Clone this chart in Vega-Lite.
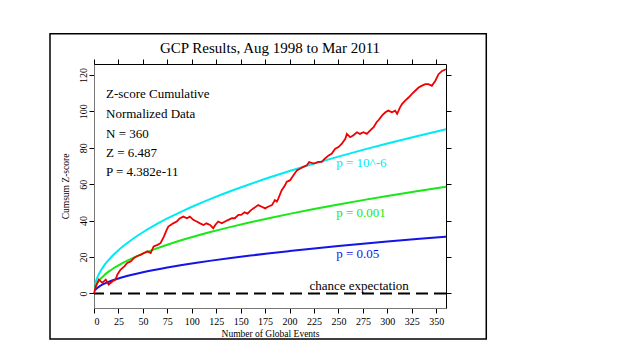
{
  "$schema": "https://vega.github.io/schema/vega-lite/v6.json",
  "autosize": "none",
  "width": 352,
  "height": 244,
  "padding": {"left": 94, "top": 64, "right": 180, "bottom": 47},
  "background": "white",
  "config": {
    "view": {"stroke": "black", "strokeWidth": 1},
    "font": "Liberation Serif",
    "axis": {"grid": false, "domainColor": "#777", "tickColor": "black", "tickSize": 5, "labelFont": "Liberation Serif", "titleFont": "Liberation Serif", "labelColor": "black", "titleColor": "black", "titleFontWeight": "normal", "labelFontSize": 10, "titleFontSize": 9.5}
  },
  "title": {"text": "GCP Results, Aug 1998 to Mar 2011", "font": "Liberation Serif", "fontSize": 15, "fontWeight": "normal", "color": "black", "anchor": "middle", "offset": -23},
  "datasets": {
    "box": [{"x1": -45, "x2": 401.2, "y1": 142.6, "y2": -25}],
    "zero": [{"z": 0}],
    "curves": [
      {"n": 1, "z": 4.75, "s": "cyan"}, {"n": 2, "z": 6.72, "s": "cyan"}, {"n": 3, "z": 8.23, "s": "cyan"}, {"n": 4, "z": 9.51, "s": "cyan"}, {"n": 6, "z": 11.64, "s": "cyan"}, {"n": 8, "z": 13.44, "s": "cyan"}, {"n": 10, "z": 15.03, "s": "cyan"}, {"n": 13, "z": 17.14, "s": "cyan"}, {"n": 16, "z": 19.01, "s": "cyan"}, {"n": 20, "z": 21.26, "s": "cyan"}, {"n": 25, "z": 23.77, "s": "cyan"}, {"n": 30, "z": 26.03, "s": "cyan"}, {"n": 40, "z": 30.06, "s": "cyan"}, {"n": 50, "z": 33.61, "s": "cyan"}, {"n": 60, "z": 36.82, "s": "cyan"}, {"n": 75, "z": 41.16, "s": "cyan"}, {"n": 90, "z": 45.09, "s": "cyan"}, {"n": 105, "z": 48.70, "s": "cyan"}, {"n": 120, "z": 52.07, "s": "cyan"}, {"n": 140, "z": 56.24, "s": "cyan"}, {"n": 160, "z": 60.12, "s": "cyan"}, {"n": 180, "z": 63.77, "s": "cyan"}, {"n": 200, "z": 67.22, "s": "cyan"}, {"n": 225, "z": 71.30, "s": "cyan"}, {"n": 250, "z": 75.15, "s": "cyan"}, {"n": 275, "z": 78.82, "s": "cyan"}, {"n": 300, "z": 82.33, "s": "cyan"}, {"n": 330, "z": 86.34, "s": "cyan"}, {"n": 360, "z": 90.18, "s": "cyan"},
      {"n": 1, "z": 3.09, "s": "green"}, {"n": 2, "z": 4.37, "s": "green"}, {"n": 3, "z": 5.35, "s": "green"}, {"n": 4, "z": 6.18, "s": "green"}, {"n": 6, "z": 7.57, "s": "green"}, {"n": 8, "z": 8.74, "s": "green"}, {"n": 10, "z": 9.77, "s": "green"}, {"n": 13, "z": 11.14, "s": "green"}, {"n": 16, "z": 12.36, "s": "green"}, {"n": 20, "z": 13.82, "s": "green"}, {"n": 25, "z": 15.45, "s": "green"}, {"n": 30, "z": 16.92, "s": "green"}, {"n": 40, "z": 19.54, "s": "green"}, {"n": 50, "z": 21.85, "s": "green"}, {"n": 60, "z": 23.94, "s": "green"}, {"n": 75, "z": 26.76, "s": "green"}, {"n": 90, "z": 29.31, "s": "green"}, {"n": 105, "z": 31.66, "s": "green"}, {"n": 120, "z": 33.85, "s": "green"}, {"n": 140, "z": 36.56, "s": "green"}, {"n": 160, "z": 39.09, "s": "green"}, {"n": 180, "z": 41.46, "s": "green"}, {"n": 200, "z": 43.70, "s": "green"}, {"n": 225, "z": 46.35, "s": "green"}, {"n": 250, "z": 48.86, "s": "green"}, {"n": 275, "z": 51.24, "s": "green"}, {"n": 300, "z": 53.52, "s": "green"}, {"n": 330, "z": 56.13, "s": "green"}, {"n": 360, "z": 58.63, "s": "green"},
      {"n": 1, "z": 1.65, "s": "blue"}, {"n": 2, "z": 2.33, "s": "blue"}, {"n": 3, "z": 2.85, "s": "blue"}, {"n": 4, "z": 3.29, "s": "blue"}, {"n": 6, "z": 4.03, "s": "blue"}, {"n": 8, "z": 4.65, "s": "blue"}, {"n": 10, "z": 5.20, "s": "blue"}, {"n": 13, "z": 5.93, "s": "blue"}, {"n": 16, "z": 6.58, "s": "blue"}, {"n": 20, "z": 7.36, "s": "blue"}, {"n": 25, "z": 8.23, "s": "blue"}, {"n": 30, "z": 9.01, "s": "blue"}, {"n": 40, "z": 10.40, "s": "blue"}, {"n": 50, "z": 11.63, "s": "blue"}, {"n": 60, "z": 12.74, "s": "blue"}, {"n": 75, "z": 14.25, "s": "blue"}, {"n": 90, "z": 15.61, "s": "blue"}, {"n": 105, "z": 16.86, "s": "blue"}, {"n": 120, "z": 18.02, "s": "blue"}, {"n": 140, "z": 19.46, "s": "blue"}, {"n": 160, "z": 20.81, "s": "blue"}, {"n": 180, "z": 22.07, "s": "blue"}, {"n": 200, "z": 23.26, "s": "blue"}, {"n": 225, "z": 24.68, "s": "blue"}, {"n": 250, "z": 26.01, "s": "blue"}, {"n": 275, "z": 27.28, "s": "blue"}, {"n": 300, "z": 28.49, "s": "blue"}, {"n": 330, "z": 29.88, "s": "blue"}, {"n": 360, "z": 31.21, "s": "blue"}
    ],
    "cumdev": [
      {"n": 0, "z": 0}, {"n": 2, "z": 4}, {"n": 5, "z": 7.6}, {"n": 8.5, "z": 5.8}, {"n": 12, "z": 7.6}, {"n": 15, "z": 4.9}, {"n": 19, "z": 6.7}, {"n": 22, "z": 7.6}, {"n": 24, "z": 10.4}, {"n": 27, "z": 13}, {"n": 31, "z": 14.9}, {"n": 34, "z": 16.7}, {"n": 37.5, "z": 17.6}, {"n": 41, "z": 19.5}, {"n": 44, "z": 20.4}, {"n": 48, "z": 21.3}, {"n": 51, "z": 22.2}, {"n": 54.6, "z": 23.1}, {"n": 58, "z": 22.2}, {"n": 61, "z": 25.8}, {"n": 65, "z": 26.7}, {"n": 68, "z": 27.6}, {"n": 71.6, "z": 31.3}, {"n": 74, "z": 34.5}, {"n": 76, "z": 36.7}, {"n": 81, "z": 38.5}, {"n": 84.6, "z": 39.5}, {"n": 88, "z": 41.3}, {"n": 91.4, "z": 42.2}, {"n": 95, "z": 41.3}, {"n": 98, "z": 42.2}, {"n": 101.6, "z": 40.4}, {"n": 105, "z": 39.5}, {"n": 108.5, "z": 38.5}, {"n": 112, "z": 37.6}, {"n": 115, "z": 38.5}, {"n": 118.7, "z": 37.6}, {"n": 122, "z": 35.8}, {"n": 124, "z": 37.6}, {"n": 127, "z": 39.5}, {"n": 130.7, "z": 38.5}, {"n": 134, "z": 39.5}, {"n": 137.5, "z": 40.4}, {"n": 141, "z": 41.3}, {"n": 144, "z": 41.3}, {"n": 147.7, "z": 43.1}, {"n": 150.5, "z": 43.1}, {"n": 154, "z": 44.5}, {"n": 157, "z": 43.8}, {"n": 160, "z": 45.5}, {"n": 163, "z": 46.7}, {"n": 168, "z": 48.5}, {"n": 171.6, "z": 47.6}, {"n": 175, "z": 46.7}, {"n": 178, "z": 47.6}, {"n": 182, "z": 48.5}, {"n": 185, "z": 51.3}, {"n": 187, "z": 50.4}, {"n": 188.6, "z": 52.2}, {"n": 192, "z": 56.7}, {"n": 195.5, "z": 59.5}, {"n": 197, "z": 61.3}, {"n": 200.6, "z": 62.2}, {"n": 204, "z": 64.9}, {"n": 207.5, "z": 67.6}, {"n": 211, "z": 68.6}, {"n": 214, "z": 69.5}, {"n": 217.7, "z": 70.4}, {"n": 220, "z": 72.2}, {"n": 224.5, "z": 71.3}, {"n": 229.6, "z": 72.2}, {"n": 233, "z": 72.2}, {"n": 236, "z": 74}, {"n": 240, "z": 75.8}, {"n": 243, "z": 76.7}, {"n": 246.7, "z": 79.5}, {"n": 250, "z": 80.4}, {"n": 253.5, "z": 82.2}, {"n": 257, "z": 84.9}, {"n": 258.6, "z": 87.6}, {"n": 262, "z": 85.8}, {"n": 265, "z": 86.7}, {"n": 269, "z": 88.5}, {"n": 272, "z": 87.6}, {"n": 275.6, "z": 88.5}, {"n": 279, "z": 87.6}, {"n": 282.5, "z": 89.5}, {"n": 286, "z": 91.3}, {"n": 289, "z": 94}, {"n": 291.5, "z": 95.5}, {"n": 294.5, "z": 97.6}, {"n": 298, "z": 99.5}, {"n": 301, "z": 100.4}, {"n": 304.7, "z": 99.5}, {"n": 308, "z": 100.4}, {"n": 310, "z": 98.6}, {"n": 313, "z": 102.2}, {"n": 315, "z": 104}, {"n": 318, "z": 105.8}, {"n": 321.7, "z": 107.6}, {"n": 325, "z": 109.5}, {"n": 328.5, "z": 111.3}, {"n": 332, "z": 113.1}, {"n": 335, "z": 114}, {"n": 338.8, "z": 114.9}, {"n": 342, "z": 114.9}, {"n": 345.5, "z": 114}, {"n": 349, "z": 116.7}, {"n": 352.4, "z": 120.4}, {"n": 356, "z": 122.2}, {"n": 360, "z": 123.1}
    ],
    "notes": [
      {"n": 12.3, "z": 109.6, "t": "Z-score Cumulative"},
      {"n": 12.3, "z": 98.6, "t": "Normalized Data"},
      {"n": 12.3, "z": 87.6, "t": "N = 360"},
      {"n": 12.3, "z": 77.2, "t": "Z = 6.487"},
      {"n": 12.3, "z": 66.8, "t": "P = 4.382e-11"}
    ],
    "plabels": [
      {"n": 247.7, "z": 71.5, "t": "p = 10^-6", "s": "cyan"},
      {"n": 247.7, "z": 44.4, "t": "p = 0.001", "s": "green"},
      {"n": 247.7, "z": 21.5, "t": "p = 0.05", "s": "blue"},
      {"n": 220.4, "z": 4.3, "t": "chance expectation", "s": "black"}
    ]
  },
  "layer": [
    {
      "data": {"name": "box"},
      "mark": {"type": "rect", "fill": null, "stroke": "black", "strokeWidth": 1.5},
      "encoding": {
        "x": {"field": "x1", "type": "quantitative", "scale": {"domain": [0, 360], "nice": false, "zero": false}, "axis": {"orient": "bottom", "values": [0, 25, 50, 75, 100, 125, 150, 175, 200, 225, 250, 275, 300, 325, 350], "title": "Number of Global Events", "labelPadding": 3, "titlePadding": 2}},
        "x2": {"field": "x2"},
        "y": {"field": "y1", "type": "quantitative", "scale": {"domain": [-8, 126], "nice": false, "zero": false}, "axis": {"orient": "left", "values": [0, 20, 40, 60, 80, 100, 120], "labelAngle": 270, "title": "Cumsum Z-score", "labelPadding": 1, "titlePadding": 8}},
        "y2": {"field": "y2"}
      }
    },
    {
      "data": {"name": "zero"},
      "mark": {"type": "rule", "color": "black", "strokeWidth": 2, "strokeDash": [12, 6]},
      "encoding": {"y": {"field": "z", "type": "quantitative", "axis": null}}
    },
    {
      "data": {"name": "curves"},
      "mark": {"type": "line", "strokeWidth": 2, "interpolate": "monotone"},
      "encoding": {
        "x": {"field": "n", "type": "quantitative", "axis": null},
        "y": {"field": "z", "type": "quantitative", "axis": {"orient": "right", "values": [0, 20, 40, 60, 80, 100, 120], "labels": false, "title": null, "domain": false, "ticks": true}},
        "color": {"field": "s", "type": "nominal", "scale": {"domain": ["cyan", "green", "blue", "black"], "range": ["#00eaf2", "#18e818", "#1414e6", "black"]}, "legend": null},
        "detail": {"field": "s"}
      }
    },
    {
      "data": {"name": "cumdev"},
      "mark": {"type": "line", "strokeWidth": 1.8, "color": "#ee0000"},
      "encoding": {
        "x": {"field": "n", "type": "quantitative", "axis": {"orient": "top", "values": [0, 25, 50, 75, 100, 125, 150, 175, 200, 225, 250, 275, 300, 325, 350], "labels": false, "title": null, "domain": false, "ticks": true, "tickColor": "black", "tickSize": 5, "tickWidth": 1, "tickOpacity": 1, "zindex": 2}},
        "y": {"field": "z", "type": "quantitative", "axis": null}
      }
    },
    {
      "data": {"name": "notes"},
      "mark": {"type": "text", "align": "left", "baseline": "middle", "fontSize": 13, "font": "Liberation Serif", "color": "black"},
      "encoding": {
        "x": {"field": "n", "type": "quantitative", "axis": null},
        "y": {"field": "z", "type": "quantitative", "axis": null},
        "text": {"field": "t"}
      }
    },
    {
      "data": {"name": "plabels"},
      "mark": {"type": "text", "align": "left", "baseline": "middle", "fontSize": 13, "font": "Liberation Serif"},
      "encoding": {
        "x": {"field": "n", "type": "quantitative", "axis": null},
        "y": {"field": "z", "type": "quantitative", "axis": null},
        "text": {"field": "t"},
        "color": {"field": "s", "type": "nominal", "legend": null}
      }
    }
  ],
  "resolve": {"axis": {"x": "independent", "y": "independent"}}
}
